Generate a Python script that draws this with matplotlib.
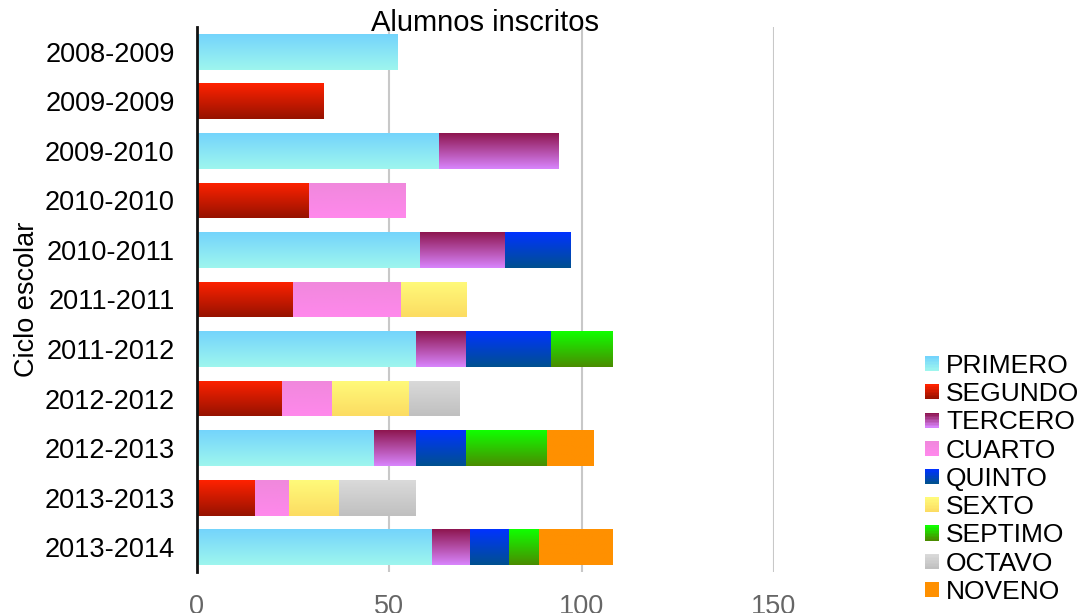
import numpy as np
import matplotlib.pyplot as plt
from matplotlib.colors import to_rgb
from matplotlib.patches import Rectangle
from matplotlib.legend_handler import HandlerBase

plt.rcParams['font.family'] = ['Liberation Sans', 'DejaVu Sans']

# Datos
ciclos = ["2008-2009", "2009-2009", "2009-2010", "2010-2010", "2010-2011",
          "2011-2011", "2011-2012", "2012-2012", "2012-2013", "2013-2013",
          "2013-2014"]
grados = ["PRIMERO", "SEGUNDO", "TERCERO", "CUARTO", "QUINTO",
          "SEXTO", "SEPTIMO", "OCTAVO", "NOVENO"]

primero = [52, 0, 63, 0, 58, 0, 57, 0, 46, 0, 61]
segundo = [0, 33, 0, 29, 0, 25, 0, 22, 0, 15, 0]
tercero = [0, 0, 31, 0, 22, 0, 13, 0, 11, 0, 10]
cuarto = [0, 0, 0, 25, 0, 28, 0, 13, 0, 9, 0]
quinto = [0, 0, 0, 0, 17, 0, 22, 0, 13, 0, 10]
sexto = [0, 0, 0, 0, 0, 17, 0, 20, 0, 13, 0]
septimo = [0, 0, 0, 0, 0, 0, 16, 0, 21, 0, 8]
octavo = [0, 0, 0, 0, 0, 0, 0, 13, 0, 20, 0]
noveno = [0, 0, 0, 0, 0, 0, 0, 0, 12, 0, 19]
series = [primero, segundo, tercero, cuarto, quinto, sexto, septimo, octavo, noveno]

# degradado vertical (arriba, abajo) de cada grado
colores = [("#74D4FC", "#9EF6EE"), ("#FF2200", "#961200"), ("#8E1650", "#D884FC"),
           ("#F088DC", "#FF88EC"), ("#0033FF", "#005090"), ("#FFFA7A", "#FCDC62"),
           ("#10FF00", "#4A8C00"), ("#DADADA", "#C0C0C0"), ("#FF9000", "#FF9000")]


def degradado(c_arriba, c_abajo, n=64):
    a = np.array(to_rgb(c_arriba))
    b = np.array(to_rgb(c_abajo))
    t = np.linspace(0, 1, n)[:, None]
    return (a * (1 - t) + b * t)[:, None, :]


class HandlerDegradado(HandlerBase):
    def __init__(self, c1, c2):
        super().__init__()
        self.c1, self.c2 = c1, c2

    def create_artists(self, legend, orig_handle, xdescent, ydescent,
                       width, height, fontsize, trans):
        n = 10
        g = degradado(self.c1, self.c2, n)[:, 0, :]
        arts = []
        h = height / n
        for i in range(n):
            r = Rectangle((-xdescent, -ydescent + height - (i + 1) * h), width, h * 1.05,
                          facecolor=g[i], edgecolor='none', transform=trans)
            arts.append(r)
        return arts


fig = plt.figure(figsize=(10.81, 6.13), dpi=100)
ax = fig.add_axes([0.1822, 0.0669, 0.5338, 0.8891])

y = np.arange(len(ciclos))
izquierda = np.zeros(len(ciclos))
handles = []
handler_map = {}
for serie, nombre, (c1, c2) in zip(series, grados, colores):
    barras = ax.barh(y, serie, left=izquierda, height=0.72, color=c1,
                     edgecolor='none', label=nombre, zorder=2)
    grad = degradado(c1, c2)
    for b, v in zip(barras, serie):
        if v == 0:
            continue
        x0, y0 = b.get_x(), b.get_y()
        im = ax.imshow(grad, extent=[x0, x0 + b.get_width(), y0 + b.get_height(), y0],
                       aspect='auto', interpolation='bilinear', zorder=3)
        im.set_clip_path(b)
    izquierda += np.array(serie)
    h = Rectangle((0, 0), 1, 1)
    handles.append(h)
    handler_map[h] = HandlerDegradado(c1, c2)

ax.set_xlim(0, 150)
ax.set_ylim(10.5, -0.5)
ax.set_xticks([0, 50, 100, 150])
ax.set_yticks(y)
ax.set_yticklabels(ciclos)
ax.xaxis.grid(True, color='#C8C8C8', linewidth=1.5, zorder=0)
ax.set_axisbelow(True)
for s in ['top', 'right', 'bottom']:
    ax.spines[s].set_visible(False)
ax.spines['left'].set_linewidth(2)
ax.spines['left'].set_color('#111111')
ax.spines['left'].set_zorder(5)
ax.tick_params(axis='x', length=0, pad=16, labelsize=19.5, labelcolor='#666666')
ax.tick_params(axis='y', length=0, pad=16, labelsize=19.5)
ax.set_ylabel("Ciclo escolar", fontsize=19.5, labelpad=3)
ax.set_title("Alumnos inscritos", fontsize=21, y=0.993, pad=0, va='baseline')

fig.legend(handles, grados, handler_map=handler_map, loc='lower left',
           bbox_to_anchor=(0.856, 0.015), frameon=False, fontsize=19,
           handlelength=0.5, handleheight=0.5, handletextpad=0.28,
           labelspacing=0.16, borderpad=0, borderaxespad=0)

fig.savefig("out.png", dpi=100)
